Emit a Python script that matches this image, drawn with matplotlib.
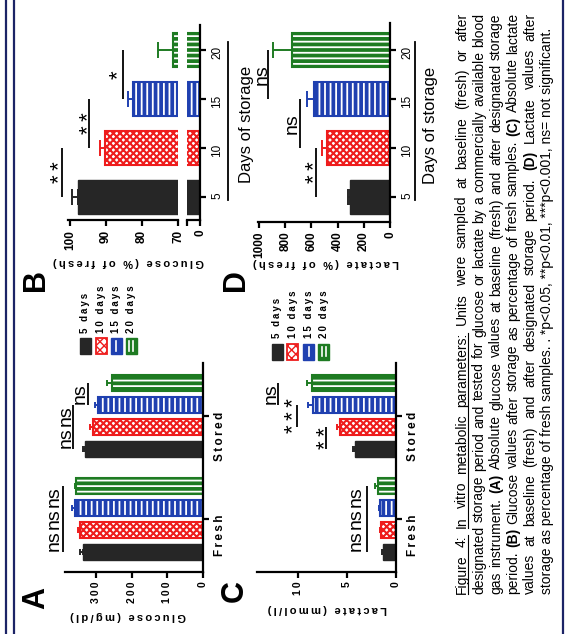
import matplotlib
matplotlib.use('Agg')
import matplotlib.pyplot as plt
import numpy as np
import re
from matplotlib.patches import Rectangle
from matplotlib.lines import Line2D

# ---------------- data ----------------
day_labels = ['5 days', '10 days', '15 days', '20 days']
day_ticks = ['5', '10', '15', '20']
groups = ['Fresh', 'Stored']

glu_fresh = [336, 345, 359, 356]
glu_fresh_err = [8, 5, 8, 3]
glu_stored = [331, 308, 294, 255]
glu_stored_err = [5, 9, 9, 14]

glu_pct = [97.7, 90.3, 82.6, 71.3]
glu_pct_err = [1.8, 1.4, 1.4, 4.2]

lac_fresh = [1.33, 1.53, 1.63, 1.84]
lac_fresh_err = [0.1, 0.1, 0.12, 0.35]
lac_stored = [4.18, 5.71, 8.47, 8.57]
lac_stored_err = [0.25, 0.3, 0.5, 0.5]

lac_pct = [305, 483, 578, 750]
lac_pct_err = [18, 38, 53, 141]

sig_A_fresh = ['ns', 'ns', 'ns']
sig_A_stored = ['ns', 'ns', 'ns']
sig_B = ['**', '**', '*']
sig_C_fresh = ['ns', 'ns', 'ns']
sig_C_stored = ['**', '***', 'ns']
sig_D = ['**', 'ns', 'ns']

caption = [
    "Figure 4: In vitro metabolic parameters: Units were sampled at baseline (fresh) or after",
    "designated storage period and tested for glucose or lactate by a commercially available blood",
    "gas instrument. (A) Absolute glucose values at baseline (fresh) and after designated storage",
    "period. (B) Glucose values after storage as percentage of fresh samples. (C) Absolute lactate",
    "values at baseline (fresh) and after designated storage period. (D) Lactate values after",
    "storage as percentage of fresh samples. . *p<0.05, **p<0.01, ***p<0.001, ns= not significant.",
]

# ---------------- style ----------------
W, H = 572, 634
plt.rcParams['font.family'] = ['Liberation Sans', 'DejaVu Sans']
COL = ['#262626', '#ee1c1c', '#1f40b0', '#1e7b22']
NAVY = '#1c2466'
TS = '\u2009'


def sp(s):
    return TS.join(list(s))


fig = plt.figure(figsize=(W / 100, H / 100), dpi=100)
fig.patch.set_facecolor('white')


def rect(x0, y0, x1, y1):
    return [x0 / W, 1 - y1 / H, (x1 - x0) / W, (y1 - y0) / H]


def fx(x):
    return x / W


def fy(y):
    return 1 - y / H


def draw_bar(ax, pos, val, height, k):
    c = COL[k]
    if k == 0:
        ax.barh([pos], [val], height=height, color=c, edgecolor=c, linewidth=1)
    elif k == 1:
        with plt.rc_context({'hatch.linewidth': 1.5}):
            ax.barh([pos], [val], height=height, facecolor='white', edgecolor=c,
                    hatch='xxxxx', linewidth=1.5)
    elif k == 2:
        with plt.rc_context({'hatch.linewidth': 1.3}):
            ax.barh([pos], [val], height=height, facecolor=c, edgecolor='white',
                    hatch='|||', linewidth=0)
        ax.barh([pos], [val], height=height, fill=False, edgecolor=c, linewidth=1.5)
    else:
        with plt.rc_context({'hatch.linewidth': 1.3}):
            ax.barh([pos], [val], height=height, facecolor=c, edgecolor='white',
                    hatch='---', linewidth=0)
        ax.barh([pos], [val], height=height, fill=False, edgecolor=c, linewidth=1.5)


def err(ax, pos, val, e, k, cap):
    ax.errorbar([val], [pos], xerr=[[0], [e]], fmt='none', ecolor=COL[k],
                elinewidth=1.4, capsize=cap, capthick=1.4, clip_on=False)


def style_ax(ax, xlim, ylim, right=True):
    ax.set_xlim(*xlim)
    ax.set_ylim(*ylim)
    ax.set_facecolor('none')
    ax.spines['top'].set_visible(False)
    ax.spines['left'].set_visible(False)
    ax.spines['bottom'].set_linewidth(1.6)
    ax.spines['right'].set_linewidth(1.6)
    ax.spines['right'].set_visible(right)
    ax.xaxis.set_ticks_position('bottom')
    ax.yaxis.set_ticks_position('right')
    ax.tick_params(axis='x', direction='out', length=4, width=1.6, pad=3)
    ax.tick_params(axis='y', direction='out', length=4, width=1.6, pad=4)
    if not right:
        ax.set_yticks([])


def set_xt(ax, ticks, labels, fs=7.5):
    ax.set_xticks(ticks)
    ax.set_xticklabels(labels, rotation=90, fontsize=fs, fontweight='bold')


def sig(ax, p0, p1, xline, dx_px, label):
    ax.plot([xline, xline], [p0, p1], color='black', lw=1.3, clip_on=False,
            solid_capstyle='butt')
    if '*' in label:
        fs = 16
        dx = dx_px + 0.31 * fs * 100 / 72
        txt = TS.join(list(label))
    else:
        fs = 14
        dx = dx_px
        txt = label
    ax.annotate(txt, xy=(xline, (p0 + p1) / 2), xytext=(dx * 0.72, 0),
                textcoords='offset points', rotation=90, ha='center', va='center',
                fontsize=fs, annotation_clip=False)


offs = np.array([-0.32, -0.107, 0.107, 0.32])
bh = 0.155

# ---------------- Panel A ----------------
axA = fig.add_axes(rect(65, 363, 203, 572))
style_ax(axA, (387, 0), (-0.515, 1.515))
for gi, (vals, errs) in enumerate([(glu_fresh, glu_fresh_err), (glu_stored, glu_stored_err)]):
    for k in range(4):
        draw_bar(axA, gi + offs[k], vals[k], bh, k)
        err(axA, gi + offs[k], vals[k], errs[k], k, 2.5)
set_xt(axA, [0, 100, 200, 300], [sp('0'), sp('100'), sp('200'), sp('300')])
axA.set_yticks([0, 1])
axA.set_yticklabels([sp(g) for g in groups], rotation=90, fontsize=8.5, fontweight='bold')
for i in range(3):
    sig(axA, offs[i], offs[i + 1], 392, -9, sig_A_fresh[i])
sig(axA, 1 + offs[0], 1 + offs[1], 364, -7, sig_A_stored[0])
sig(axA, 1 + offs[1], 1 + offs[2], 364, -7, sig_A_stored[1])
sig(axA, 1 + offs[2], 1 + offs[3], 322, -8, sig_A_stored[2])

# ---------------- Panel C ----------------
axC = fig.add_axes(rect(257, 363, 396, 572))
style_ax(axC, (14.18, 0), (-0.515, 1.515))
for gi, (vals, errs) in enumerate([(lac_fresh, lac_fresh_err), (lac_stored, lac_stored_err)]):
    for k in range(4):
        draw_bar(axC, gi + offs[k], vals[k], bh, k)
        err(axC, gi + offs[k], vals[k], errs[k], k, 2.5)
set_xt(axC, [0, 5, 10], ['0', '5', sp('10')])
axC.set_yticks([0, 1])
axC.set_yticklabels([sp(g) for g in groups], rotation=90, fontsize=8.5, fontweight='bold')
for i in range(3):
    sig(axC, offs[i], offs[i + 1], 2.96, -11, sig_C_fresh[i])
sig(axC, 1 + offs[0], 1 + offs[1], 7.1, -7, sig_C_stored[0])
sig(axC, 1 + offs[1], 1 + offs[2], 10.1, -9, sig_C_stored[1])
sig(axC, 1 + offs[2], 1 + offs[3], 12.04, -7, sig_C_stored[2])

# ---------------- Panel B (broken axis) ----------------
pos4 = np.arange(4)
bw = 0.68
ylimB = (-0.47, 3.51)
axB1 = fig.add_axes(rect(68, 25, 178, 220))
axB2 = fig.add_axes(rect(187, 25, 200, 220))
style_ax(axB1, (100.56, 70), ylimB, right=False)
style_ax(axB2, (3.6, 0), ylimB)
for k in range(4):
    draw_bar(axB1, pos4[k], glu_pct[k], bw, k)
    draw_bar(axB2, pos4[k], glu_pct[k], bw, k)
    err(axB1, pos4[k], glu_pct[k], glu_pct_err[k], k, 5.5)
set_xt(axB1, [70, 80, 90, 100], ['70', '80', '90', '100'], fs=8.5)
set_xt(axB2, [3.6, 0], ['', '0'], fs=8.5)
axB2.set_yticks(pos4)
axB2.set_yticklabels(day_ticks, rotation=90, fontsize=8.5)
sig(axB1, 0, 1, 102.2, -8.5, sig_B[0])
sig(axB1, 1, 2, 94.7, -6.5, sig_B[1])
sig(axB1, 2, 3, 85.3, -11, sig_B[2])

# ---------------- Panel D ----------------
axD = fig.add_axes(rect(258, 23, 390, 222))
style_ax(axD, (1007, 0), (-0.51, 3.55))
for k in range(4):
    draw_bar(axD, pos4[k], lac_pct[k], bw, k)
    err(axD, pos4[k], lac_pct[k], lac_pct_err[k], k, 5.5)
set_xt(axD, [0, 200, 400, 600, 800, 1000], ['0', '200', '400', '600', '800', '1000'], fs=8.5)
axD.set_yticks(pos4)
axD.set_yticklabels(day_ticks, rotation=90, fontsize=8.5)
sig(axD, 0, 1, 565, -7, sig_D[0])
sig(axD, 1, 2, 687, -8, sig_D[1])
sig(axD, 2, 3, 931, -6, sig_D[2])

# ---------------- axis labels ----------------
for (x, y, s) in [(128, 616, 'Glucose (mg/dl)'), (129, 262, 'Glucose (% of fresh)'),
                  (327, 609, 'Lactate (mmol/l)'), (326, 263, 'Lactate (% of fresh)')]:
    fig.text(fx(x), fy(y), sp(s), rotation=180, ha='center', va='center',
             fontsize=8, fontweight='bold')

for (x, yl, xt, yt) in [(228, (42, 200), 246, 124), (415, (42, 200), 430, 125)]:
    fig.add_artist(Line2D([fx(x), fx(x)], [fy(yl[0]), fy(yl[1])], color='black',
                          lw=1.3, transform=fig.transFigure))
    fig.text(fx(xt), fy(yt), 'Days of storage', rotation=90, ha='center', va='center',
             fontsize=12)

for (x, y, s) in [(36, 598, 'A'), (36, 280, 'B'), (235, 591, 'C'), (236, 280, 'D')]:
    fig.text(fx(x), fy(y), s, rotation=90, ha='center', va='center', fontsize=22,
             fontweight='bold')

# ---------------- legends ----------------
def legend(xcs, yc, ytext):
    for k, xc in enumerate(xcs):
        x0, x1 = xc - 5.5, xc + 5.5
        y0, y1 = yc - 8, yc + 8
        r = Rectangle((fx(x0), fy(y1)), 11 / W, 16 / H, transform=fig.transFigure)
        if k == 0:
            r.set_facecolor(COL[0]); r.set_edgecolor(COL[0])
        elif k == 1:
            r.set_facecolor('white'); r.set_edgecolor(COL[1]); r.set_hatch('xxxx')
            r.set_linewidth(1.3)
        else:
            r.set_facecolor(COL[k]); r.set_edgecolor(COL[k])
        fig.add_artist(r)
        if k >= 2:
            xs = [xc] if k == 2 else [xc - 2, xc + 2]
            for xl in xs:
                fig.add_artist(Line2D([fx(xl), fx(xl)], [fy(y0 + 3), fy(y1 - 3)],
                                      color='white', lw=1.2, transform=fig.transFigure))
        fig.text(fx(xc), fy(ytext), sp(day_labels[k]), rotation=90, rotation_mode='anchor',
                 ha='left', va='center', fontsize=7, fontweight='bold')


legend([85, 101, 116, 131], 346, 333)
legend([277.5, 292.5, 308.5, 324], 351.5, 338)

# ---------------- border lines ----------------
for x, lw in [(6, 1.6), (14, 1.6), (563, 1.6)]:
    fig.add_artist(Line2D([fx(x), fx(x)], [0, 1], color=NAVY, lw=lw,
                          transform=fig.transFigure))

# ---------------- caption ----------------
renderer = fig.canvas.get_renderer()


def tw(s, fs, weight='normal'):
    t = fig.text(0, 0, s, fontsize=fs, fontweight=weight)
    w = t.get_window_extent(renderer).width
    t.remove()
    return w


base_fs = 10
fs_cap = base_fs * 566 / tw(caption[5], base_fs)
baselines = [466, 483, 500, 517, 534, 551]
ystart, yend = 594, 13
for li, line in enumerate(caption):
    bx = baselines[li]
    if li == 5:
        fig.text(fx(bx), fy(ystart), line, rotation=90, rotation_mode='anchor',
                 ha='left', va='baseline', fontsize=fs_cap)
        continue
    words = line.split()
    weights = ['bold' if re.fullmatch(r'\([A-D]\)', w) else 'normal' for w in words]
    widths = [tw(w, fs_cap, wt) for w, wt in zip(words, weights)]
    gap = (ystart - yend - sum(widths)) / (len(words) - 1)
    y = ystart
    starts = []
    for w, wt, wd in zip(words, weights, widths):
        fig.text(fx(bx), fy(y), w, rotation=90, rotation_mode='anchor', ha='left',
                 va='baseline', fontsize=fs_cap, fontweight=wt)
        starts.append((y, y - wd))
        y -= wd + gap
    if li == 0:
        for a, b in [(0, 1), (2, 5)]:
            fig.add_artist(Line2D([fx(bx + 2), fx(bx + 2)],
                                  [fy(starts[a][0]), fy(starts[b][1])], color='black',
                                  lw=0.8, transform=fig.transFigure))

fig.savefig('out.png', dpi=100, facecolor='white')
